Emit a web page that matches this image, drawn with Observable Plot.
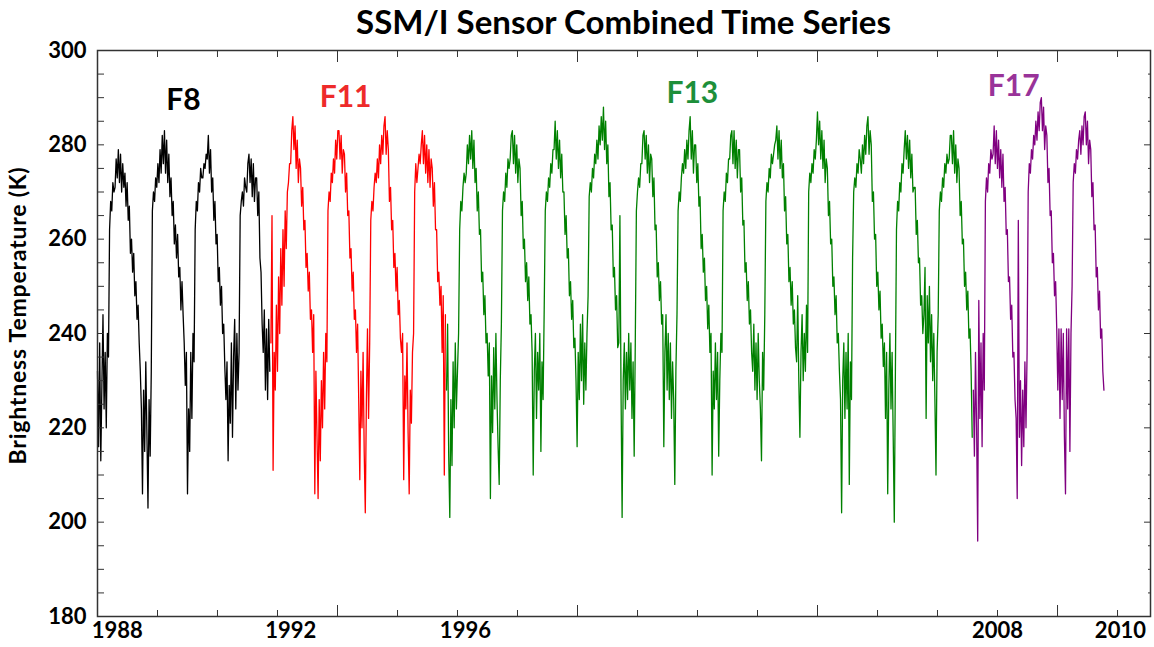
<!DOCTYPE html>
<html><head><meta charset="utf-8">
<script src="https://cdn.jsdelivr.net/npm/d3@7"></script>
<script src="https://cdn.jsdelivr.net/npm/@observablehq/plot@0.6"></script>
<style>
body{margin:0;background:#fff;}
#title{height:44px;width:1154px;box-sizing:border-box;padding-left:97px;padding-right:4px;text-align:center;font-family:Lato,"Open Sans",sans-serif;font-weight:bold;font-size:33px;line-height:42px;color:#000;white-space:nowrap;}
#chart svg{display:block;}
</style></head><body>
<div id="title">SSM/I Sensor Combined Time Series</div>
<div id="chart"></div>
<script>
// ---- data: brightness temperature (K), one value every 1/40 year ----
const step = 0.025;
const sensorNames = ["F8", "F11", "F13", "F17"];
const sensorStart = [1987.6, 1991.55, 1995.55, 2007.55];
const lineColors = ["#000000", "#ff0000", "#008000", "#800080"];
const labelColors = ["#000000", "#ee2a2a", "#1d8f3a", "#993399"];
const labelX = [1989.56, 1993.25, 2001.15, 2008.47];
const labelY = [289.4, 290.0, 290.9, 292.4];

const f8 = [
  232,216,238,213,229,244,224,236,220,240,235,262,268,266,272,270,
  271,277,273,279,272,278,270,276,271,274,267,272,264,267,257,260,253,257,248,251,243,246,238,232,224,206,228,215,234,219,203,226,214,232,266,270,268,273,271,276,
  272,279,274,282,276,283,274,281,272,278,269,273,265,268,259,263,256,261,252,254,245,251,244,238,229,236,206,224,215,236,222,240,234,262,268,266,272,270,275,273,
  273,276,275,278,277,282,274,279,270,273,264,268,259,261,251,254,246,250,240,242,233,226,234,213,229,221,238,218,235,243,224,240,228,236,265,268,270,267,273,271,
  270,276,278,272,277,269,276,268,273,273,265,270,256,253,242,236,245,228,241,226,243,232
];
const f11 = [
  238,265,211,236,228,246,232,252,240,258,246,262,250,266,258,270,272,276,
  276,283,286,279,284,275,281,272,277,275,267,271,262,264,254,257,249,253,243,245,236,244,206,232,218,205,226,213,230,220,236,224,240,234,266,270,268,274,272,277,
  274,281,277,283,283,277,282,274,279,278,270,274,265,266,256,258,249,253,243,245,236,242,226,209,232,220,236,215,202,226,241,222,238,264,268,266,271,274,272,277,
  273,280,276,282,278,284,286,278,283,279,268,271,262,264,254,257,249,254,244,247,239,236,240,209,231,224,238,219,206,228,221,236,240,270,276,272,275,278,276,280,
  283,276,282,274,280,272,279,271,277,275,267,272,262,262,251,253,246,250,236,248,210,244
];
const f13 = [
  228,242,214,201,226,212,234,220,238,224,232,240,262,268,266,271,274,272,
  274,280,276,282,277,283,275,281,272,275,266,270,261,262,251,253,244,248,238,240,231,238,205,231,219,237,224,240,226,216,208,230,242,266,270,268,274,271,277,275,
  277,282,283,276,282,274,280,272,277,275,265,268,258,260,251,255,247,252,242,244,236,210,232,240,222,236,228,240,215,234,226,245,266,270,268,273,271,276,274,279,
  279,285,277,283,275,281,273,278,270,270,261,265,256,258,248,251,243,247,237,239,230,216,236,226,242,230,244,225,238,228,240,248,269,272,270,275,273,278,276,281,
  277,284,280,286,281,288,279,285,276,280,269,272,262,263,252,254,245,248,237,238,265,228,201,230,238,224,236,226,240,228,238,222,234,214,238,266,270,273,271,276,
  276,282,283,277,282,274,280,272,278,277,269,273,262,263,252,255,247,251,242,244,216,236,244,228,240,226,238,222,234,226,208,232,244,266,270,268,273,276,274,279,
  275,281,277,283,286,277,283,274,280,280,272,276,267,269,258,261,253,256,247,250,241,246,236,240,210,232,224,238,226,236,214,230,240,236,266,270,268,274,272,277,
  277,282,283,276,283,275,281,273,279,279,270,273,263,264,253,255,247,251,242,245,236,232,242,228,238,226,240,230,224,213,236,228,244,268,272,270,275,273,278,276,
  278,280,281,284,277,283,275,281,273,276,266,269,259,261,251,254,246,251,242,245,237,234,248,230,218,236,244,230,240,232,246,236,270,274,272,276,274,279,277,281,
  287,280,285,277,283,275,281,272,277,275,265,268,259,260,250,252,244,248,238,240,232,226,202,230,238,222,236,224,240,208,234,226,256,270,273,271,276,274,279,277,
  274,280,276,282,278,284,286,278,283,280,268,270,260,261,250,253,245,249,239,242,233,238,222,236,206,228,240,224,236,218,200,232,262,268,266,272,270,276,274,279,
  283,277,282,275,281,273,278,270,271,271,261,264,255,256,246,248,240,244,254,222,248,238,250,234,244,230,240,226,210,236,244,266,270,268,273,271,276,274,278,276,
  277,282,282,276,283,274,280,272,277,275,265,268,259,260,250,253,245,249,239,241,232,218
];
const f17 = [
  228,214,236,220,196,247,222,238,216,240,228,268,273,270,276,274,279,277,
  278,284,276,283,275,281,273,279,271,278,268,271,261,262,251,252,243,246,235,236,226,222,205,264,218,230,212,228,216,234,220,236,270,276,274,279,277,282,280,285,
  281,287,283,289,290,283,288,279,284,282,272,275,265,266,255,257,248,251,241,228,241,222,241,226,240,218,206,241,224,241,215,240,250,272,276,274,279,277,281,283,
  278,284,280,286,287,280,285,276,281,279,269,272,262,263,252,254,245,249,239,241,232,228
];
const sensorValues = [f8, f11, f13, f17];

// ---- axes ----
const xDomain = [1987.6, 2011.586];
const yDomain = [180, 300];
const yMajor = [180, 200, 220, 240, 260, 280, 300];
const yMinor = [185, 190, 195, 205, 210, 215, 225, 230, 235, 245, 250, 255, 265, 270, 275, 285, 290, 295];
const xMinor = [1988.967, 1990.333, 1991.700, 1994.434, 1995.800, 1997.167, 1999.901, 2001.267, 2002.634, 2005.368, 2006.734, 2008.101, 2010.835];
const xMajor = [1993.067, 1998.534, 2004.001, 2009.468];
const xTickLabels = ["1988", "1992", "1996", "2008", "2010"];
const xTickLabelAt = [1988.05, 1992.0, 1995.98, 2008.1, 2010.9];
const yTitle = "Brightness Temperature (K)";

const rows = [];
sensorNames.forEach((name, s) => {
  sensorValues[s].forEach((v, i) => rows.push({sensor: name, t: sensorStart[s] + i * step, v, color: lineColors[s]}));
});

const tickStroke = "#333";
const chart = Plot.plot({
  width: 1154, height: 603,
  marginLeft: 97, marginRight: 4, marginTop: 6, marginBottom: 31,
  x: {domain: xDomain},
  y: {domain: yDomain},
  color: {type: "identity"},
  style: {fontFamily: "Lato, 'Open Sans', sans-serif", fontWeight: "bold", fontSize: "20px", background: "#fff", color: "#000", overflow: "visible"},
  marks: [
    Plot.line(rows, {x: "t", y: "v", z: "sensor", stroke: "color", strokeWidth: 1.3}),
    Plot.frame({stroke: tickStroke, strokeWidth: 1.5}),
    Plot.axisY({anchor: "left", ticks: yMinor.concat(yMajor), tickSize: -7, tickFormat: () => "", label: null, stroke: tickStroke}),
    Plot.axisY({anchor: "right", ticks: yMinor, tickSize: -3, tickFormat: () => "", label: null, stroke: tickStroke}),
    Plot.axisY({anchor: "right", ticks: yMajor, tickSize: -7, tickFormat: () => "", label: null, stroke: tickStroke}),
    Plot.axisY({anchor: "left", ticks: yMajor, tickSize: 0, tickPadding: 11, tickFormat: d => String(d), label: null, fontSize: 22, fill: "#000"}),
    Plot.axisX({anchor: "bottom", ticks: xMinor, tickSize: -6, tickFormat: () => "", label: null, stroke: tickStroke}),
    Plot.axisX({anchor: "bottom", ticks: xMajor, tickSize: -11, tickFormat: () => "", label: null, stroke: tickStroke}),
    Plot.axisX({anchor: "top", ticks: xMinor, tickSize: -6, tickFormat: () => "", label: null, stroke: tickStroke}),
    Plot.axisX({anchor: "top", ticks: xMajor, tickSize: -11, tickFormat: () => "", label: null, stroke: tickStroke}),
    Plot.text(xTickLabels, {x: (d, i) => xTickLabelAt[i], text: d => d, frameAnchor: "bottom", dy: 21, fontSize: 22, fill: "#000"}),
    Plot.text(sensorNames, {x: (d, i) => labelX[i], y: (d, i) => labelY[i], text: d => d, fill: (d, i) => labelColors[i], fontSize: 30}),
    Plot.text([yTitle], {text: d => d, frameAnchor: "left", textAnchor: "middle", dx: -79, dy: -18, rotate: -90, fontSize: 23, fill: "#000"})
  ]
});
d3.select(chart).selectAll("text").filter(function () { return this.textContent === yTitle; }).attr("letter-spacing", "0.8px");
document.getElementById("chart").appendChild(chart);
</script>
</body></html>
